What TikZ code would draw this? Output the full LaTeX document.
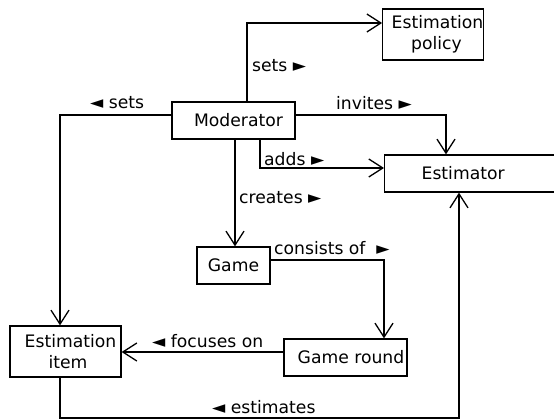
\documentclass[tikz,border=0pt]{standalone}
\usepackage{fontspec}
\setmainfont{DejaVu Sans}
\usepackage{tikz}
\usetikzlibrary{positioning}
\usetikzlibrary{arrows.meta}
\tikzset{
    entity/.style={draw, line width=1.3pt, inner sep=0pt, align=center, font=\fontsize{17.2}{21}\selectfont},
    link/.style={draw, line width=1.3pt, -{Straight Barb[length=14pt, width=18pt, line width=1.3pt]}},
    role/.style={inner sep=0pt, anchor=west, font=\fontsize{17.2}{21}\selectfont}
}

\begin{document}
\begin{tikzpicture}[x=1pt, y=-1pt]
        \useasboundingbox (0,0) rectangle (554,420);
        \node [entity, minimum width=123pt, minimum height=37pt] (mod) at (233.5,120.5) {\hspace*{10pt}Moderator};
        \node [entity, minimum width=98pt, minimum height=51pt] (pol) at (433,34.5) {\hspace*{9pt}Estimation\\\hspace*{7pt}policy};
        \node [entity, minimum width=180pt, minimum height=37pt, anchor=west, text width=143pt, inner xsep=37pt, align=left] (est) at (384,173.5) {Estimator};
        \node [entity, minimum width=73pt, minimum height=37pt] (game) at (233.5,265.5) {Game};
        \node [entity, minimum width=123pt, minimum height=37pt] (round) at (345.5,357.5) {\hspace*{11pt}Game round};
        \node [entity, minimum width=111pt, minimum height=51pt] (item) at (65.5,351.5) {\hspace*{10pt}Estimation\\\hspace*{5pt}item};

        \coordinate (c1) at (247,23);
        \coordinate (c2) at (60,115);
        \coordinate (c3) at (446,115);
        \coordinate (c4) at (260,168);
        \coordinate (c5) at (235,0);
        \coordinate (c6) at (384,260);
        \coordinate (c7) at (0,352);
        \coordinate (c8) at (60,418);
        \coordinate (c9) at (459,418);

        \draw [link] (c1 |- mod.north) -- (c1) -- (c1 -| pol.west);
        \draw [link] (c2 -| mod.west) -- (c2) -- (c2 |- item.north);
        \draw [link] (c3 -| mod.east) -- (c3) -- (c3 |- est.north);
        \draw [link] (c4 |- mod.south) -- (c4) -- (c4 -| est.west);
        \draw [link] (c5 |- mod.south) -- (c5 |- game.north);
        \draw [link] (c6 -| game.east) -- (c6) -- (c6 |- round.north);
        \draw [link] (c7 -| round.west) -- (c7 -| item.east);
        \draw [link] (c8 |- item.south) -- (c8) -- (c9) -- (c9 |- est.south);

        \node [role] (sets1) at (252,66) {sets ►};
        \node [role] (sets2) at (90,103) {◄ sets};
        \node [role] (invites) at (336,103) {invites ►};
        \node [role] (adds) at (264,159) {adds ►};
        \node [role] (creates) at (239,198) {creates ►};
        \node [role] (consists) at (274,248) {consists of \ ►};
        \node [role] (focuses) at (152,341) {◄ focuses on};
        \node [role] (estimates) at (212,407) {◄ estimates};
    \end{tikzpicture}
\end{document}
